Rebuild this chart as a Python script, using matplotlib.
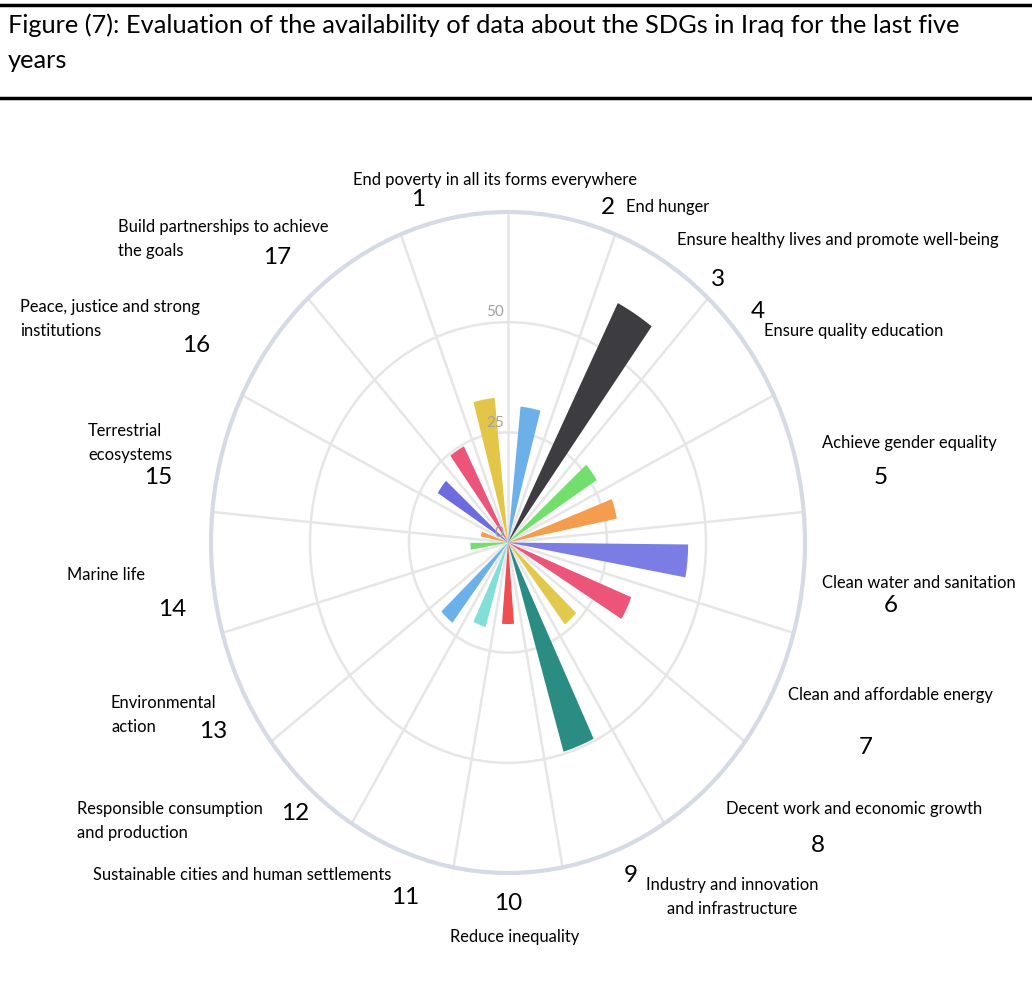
import numpy as np
import matplotlib.pyplot as plt
from matplotlib.lines import Line2D

W, H = 1032, 981

# data: one bar per SDG, clockwise from the top
goals = list(range(1, 18))
goal_names = [
    "End poverty in all its forms everywhere",
    "End hunger",
    "Ensure healthy lives and promote well-being",
    "Ensure quality education",
    "Achieve gender equality",
    "Clean water and sanitation",
    "Clean and affordable energy",
    "Decent work and economic growth",
    "Industry and innovation\nand infrastructure",
    "Reduce inequality",
    "Sustainable cities and human settlements",
    "Responsible consumption\nand production",
    "Environmental\naction",
    "Marine life",
    "Terrestrial\necosystems",
    "Peace, justice and strong\ninstitutions",
    "Build partnerships to achieve\nthe goals",
]
values = [33, 31, 61, 26.5, 28, 45.5, 33.5, 23.5, 49.5, 18.5, 20, 23, 0, 9.5, 7, 21, 24.5]
colors = ["#e3c547", "#6cb0ea", "#3c3c41", "#72df6c", "#f49d4f", "#7b7de4", "#ec5579",
          "#e2c84c", "#2a8c83", "#ee4f52", "#80e0d8", "#6cb0ea", "#9a9a9a", "#72df6c",
          "#f49d4f", "#6c6ce0", "#ec5579"]
ring_ticks = [0, 25, 50]
r_max = 75

# layout of the hand placed labels (pixels from top-left, first line)
name_pos = [(353, 180, "left"), (626, 207, "left"), (677, 240, "left"), (764, 331, "left"),
            (822, 443, "left"), (822, 583, "left"), (788, 695, "left"), (726, 809, "left"),
            (732, 885, "center"), (450, 937, "left"), (93, 875, "left"), (77, 809, "left"),
            (111, 703, "left"), (67, 575, "left"), (88, 431, "left"), (20, 307, "left"),
            (118, 227, "left")]
line_gap = 24
num_pos = [(418, 199), (608, 208), (718, 280), (758, 312), (881, 477), (891, 605),
           (866, 747), (818, 845), (631, 875), (508, 903), (405, 897), (295, 813),
           (213, 732), (172, 610), (158, 478), (196, 345), (277, 257)]

label_font = ["Lato", "DejaVu Sans"]

fig = plt.figure(figsize=(W / 100, H / 100), dpi=100)

def px(x, y):
    return x / W, 1 - y / H

# title block
fig.add_artist(Line2D([0, 1], [1 - 5 / H, 1 - 5 / H], color="black", lw=2.5))
fig.add_artist(Line2D([0, 1], [1 - 98 / H, 1 - 98 / H], color="black", lw=2.5))
fig.text(*px(8, 25), "Figure (7): Evaluation of the availability of data about the SDGs in Iraq for the last five",
         fontsize=18.3, family=label_font, va="center", ha="left")
fig.text(*px(8, 60), "years", fontsize=18.3, family=label_font, va="center", ha="left")

# polar chart (stretched vertically like the original)
ax = fig.add_axes([211 / W, 1 - 873 / H, 594 / W, 661 / H], projection="polar")
ax.set_aspect("auto")
ax.set_theta_zero_location("N")
ax.set_theta_direction(-1)

n = len(goals)
step = 2 * np.pi / n
theta = np.array([(g - 1) * step - step / 2 for g in goals])
ax.bar(theta, values, width=0.165, color=colors, linewidth=0, zorder=3)

ax.set_ylim(0, r_max)
ax.set_yticks([25, 50])
ax.set_yticklabels([])
ax.set_xticks(np.arange(n) * step)
ax.set_xticklabels([])
ax.grid(color="#e6e6e6", lw=1.8)
ax.spines["polar"].set_color("#d5dae7")
ax.spines["polar"].set_linewidth(3)

for v in ring_ticks:
    ax.annotate(str(v), xy=(0, v), xytext=(-3, 2), textcoords="offset points",
                ha="right", va="bottom", fontsize=11, color="#a0a0a0",
                family=label_font, zorder=4)

for name, (x, y, ha) in zip(goal_names, name_pos):
    for i, line in enumerate(name.split("\n")):
        fig.text(*px(x, y + i * line_gap), line, fontsize=11.9, family=label_font,
                 ha=ha, va="center")

for g, (x, y) in zip(goals, num_pos):
    fig.text(*px(x, y), str(g), fontsize=17.5, family=label_font, ha="center", va="center")

fig.savefig("out.png", dpi=100)
